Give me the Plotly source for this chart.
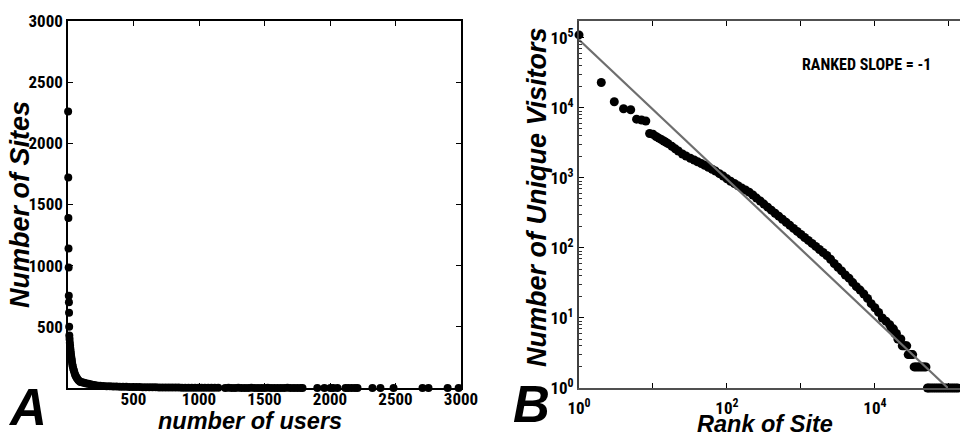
import plotly.graph_objects as go

# ---------------- Panel A data ----------------
a_users = [1, 2, 3, 4, 5, 6, 7, 8, 9,
           10, 12, 14, 16, 18, 20, 22, 24, 26, 28, 30, 33, 36, 40, 44, 48, 53, 58, 64, 70,
           78, 86, 95, 105, 116, 128, 140, 155, 170, 185, 200, 220,
           245, 270, 295, 320, 345, 370, 395, 420, 445, 470, 495, 520, 545, 570, 595, 620,
           645, 670, 695, 720, 745, 770, 795, 820, 845, 870, 895, 920, 945, 970, 995, 1020,
           1045, 1070, 1095, 1120,
           1147, 1200, 1225, 1250, 1275, 1300, 1325, 1350, 1375, 1400, 1425, 1450, 1475,
           1500, 1525, 1550, 1575, 1600, 1625, 1650, 1675, 1700, 1725, 1750, 1775, 1790,
           1903, 1957, 2003, 2025, 2057, 2118, 2140, 2165, 2190, 2210, 2324, 2385, 2485,
           2706, 2752, 2898, 2982]
a_sites = [2260, 1720, 1390, 1140, 985, 755, 700, 615, 500,
           430, 400, 370, 345, 320, 300, 280, 262, 245, 230, 215, 195, 178, 160, 145, 130, 112, 100, 88, 78,
           66, 58, 50, 47, 44, 40, 37, 34, 30, 27, 24, 21,
           18, 16, 15, 14, 13, 12, 11, 10, 10, 9, 9, 8, 8, 7, 7, 6,
           6, 6, 5, 5, 5, 4, 4, 4, 4, 3, 3, 3, 3, 3, 2, 2,
           2, 2, 2, 2,
           2, 1, 2, 1, 1, 2, 1, 1, 1, 2, 1, 1, 1,
           1, 2, 1, 1, 1, 1, 1, 2, 1, 1, 1, 1, 1,
           1, 1, 1, 1, 1, 1, 1, 1, 1, 1, 1, 1, 1,
           1, 1, 1, 1]
a_ticks = [500, 1000, 1500, 2000, 2500, 3000]
a_ticklabels = ["500", "1000", "1500", "2000", "2500", "3000"]

# ---------------- Panel B data ----------------
b_rank = [1, 2, 3, 4, 5, 6, 7, 8, 9, 10, 11, 12, 13, 14, 15, 16,
          18, 20, 22, 25, 28, 32, 36, 40, 45, 50,
          56, 63, 70, 79, 89, 100, 112, 126, 141, 158,
          178, 200, 224, 251, 282, 316, 355, 398, 447, 501,
          562, 631, 708, 794, 891, 1000, 1122, 1259, 1413, 1585,
          1778, 1995, 2239, 2512, 2818, 3162, 3548, 3981, 4467, 5012,
          5623, 6310, 7080, 7943, 8913, 10000, 11220, 12590, 14130, 15850,
          16600, 17780, 18620, 19500, 20420, 21380, 22390, 23440, 24550, 25700,
          26920, 28180, 29510, 30900, 32360, 33880, 35480, 37150, 38900, 40740,
          42660, 44670, 46770, 48980, 51290, 53700, 57540, 61660, 66070, 70790,
          75860, 81280, 87100, 93330, 100000, 107200, 114800, 123000, 131800]
b_visitors = [110000, 23000, 12200, 9700, 9400, 6900, 6700, 6500, 4300, 4200,
              3900, 3690, 3520, 3360, 3220, 3080,
              2820, 2600, 2420, 2190, 2050, 1910, 1800, 1700, 1600, 1510,
              1420, 1330, 1250, 1150, 1060, 970, 895, 830, 773, 720,
              671, 625, 569, 515, 467, 423, 382, 346, 313, 284,
              257, 232, 210, 190, 172, 156, 141, 128, 116, 105,
              95, 86, 78, 69, 60, 53, 47, 41, 37, 32,
              28, 25, 22, 19, 16, 14, 12, 10, 9, 8,
              7, 7, 6, 6, 5, 5, 5, 4, 4, 4,
              4, 3, 3, 3, 3, 2, 2, 2, 2, 2,
              2, 2, 2, 2, 1, 1, 1, 1, 1, 1,
              1, 1, 1, 1, 1, 1, 1, 1, 1]
slope_rank = [1, 97000]
slope_visitors = [94000, 1]
b_decades = [1, 10, 100, 1000, 10000, 100000]
b_xlabels = ["10<sup>0</sup>", "", "10<sup>2</sup>", "", "10<sup>4</sup>", ""]
b_ylabels = ["10<sup>0</sup>", "10<sup>1</sup>", "10<sup>2</sup>",
             "10<sup>3</sup>", "10<sup>4</sup>", "10<sup>5</sup>"]

NARROW = "Liberation Sans Narrow, Roboto Condensed, Liberation Sans, Arial Narrow, sans-serif"
WIDE = "Liberation Sans, Arial, DejaVu Sans, sans-serif"
tickfont = dict(family=NARROW, size=17, color="black", weight="bold")

fig = go.Figure()
fig.add_trace(go.Scatter(x=a_users, y=a_sites, mode="markers",
                         marker=dict(size=8, color="black"),
                         cliponaxis=False, xaxis="x", yaxis="y", showlegend=False))
fig.add_trace(go.Scatter(x=b_rank, y=b_visitors, mode="markers",
                         marker=dict(size=9, color="black"),
                         cliponaxis=False, xaxis="x2", yaxis="y2", showlegend=False))
fig.add_trace(go.Scatter(x=slope_rank, y=slope_visitors, mode="lines",
                         line=dict(color="#6e6e6e", width=2.2),
                         cliponaxis=False, xaxis="x2", yaxis="y2", showlegend=False))

minor_vals = [m * 10 ** d for d in range(0, 6) for m in range(2, 10)]

fig.update_layout(
    width=960, height=436,
    margin=dict(l=0, r=0, t=0, b=0, autoexpand=False),
    paper_bgcolor="white", plot_bgcolor="white",
    xaxis=dict(domain=[68 / 960, 461 / 960], range=[0, 3000], anchor="y", automargin=False,
               tickmode="array", tickvals=a_ticks, ticktext=a_ticklabels,
               ticks="inside", ticklen=5, tickwidth=1, tickcolor="black",
               showline=True, linecolor="black", linewidth=1.5, mirror="ticks",
               showgrid=False, zeroline=False, tickfont=tickfont, ticklabelstandoff=-5),
    yaxis=dict(domain=[1 - 388 / 436, 1 - 21 / 436], range=[0, 3000], anchor="x", automargin=False,
               tickmode="array", tickvals=a_ticks, ticktext=a_ticklabels,
               ticks="inside", ticklen=5, tickwidth=1, tickcolor="black",
               showline=True, linecolor="black", linewidth=1.5, mirror="ticks",
               showgrid=False, zeroline=False, tickfont=tickfont),
    xaxis2=dict(domain=[579 / 960, 1.0], type="log", range=[0, 5.15], anchor="y2", automargin=False,
                tickmode="array", tickvals=b_decades, ticktext=b_xlabels,
                ticks="inside", ticklen=5, tickwidth=1, tickcolor="black",
                showline=True, linecolor="#505050", linewidth=2, mirror="ticks",
                showgrid=False, zeroline=False, tickfont=tickfont, ticklabelstandoff=4),
    yaxis2=dict(domain=[1 - 388 / 436, 1 - 21 / 436], type="log", range=[0, 5.24], anchor="x2",
                automargin=False,
                tickmode="array", tickvals=b_decades, ticktext=b_ylabels,
                ticks="inside", ticklen=5, tickwidth=1, tickcolor="black",
                minor=dict(tickmode="array", tickvals=minor_vals, ticks="inside",
                           ticklen=3, tickcolor="#333333", showgrid=False),
                showline=True, linecolor="#404040", linewidth=2, mirror=False,
                showgrid=False, zeroline=False, tickfont=tickfont),
)

def ann(text, px, py, size, angle=0, italic=True, family=WIDE):
    return dict(text=text, x=px / 960, y=1 - py / 436, xref="paper", yref="paper",
                xanchor="center", yanchor="middle", showarrow=False, textangle=angle,
                font=dict(family=family, size=size, color="black", weight="bold",
                          style="italic" if italic else "normal"))

fig.update_layout(annotations=[
    ann("Number of Sites", 20, 205, 27, angle=-90),
    ann("number of users", 250, 421, 23.5),
    ann("Number of Unique Visitors", 537, 197, 27, angle=-90),
    ann("Rank of Site", 765, 424, 23.5),
    ann("A", 27, 407, 51),
    ann("B", 531, 404, 51),
    ann("RANKED SLOPE = -1", 866, 64, 16, italic=False, family=NARROW),
])

fig.write_html("out.html")
